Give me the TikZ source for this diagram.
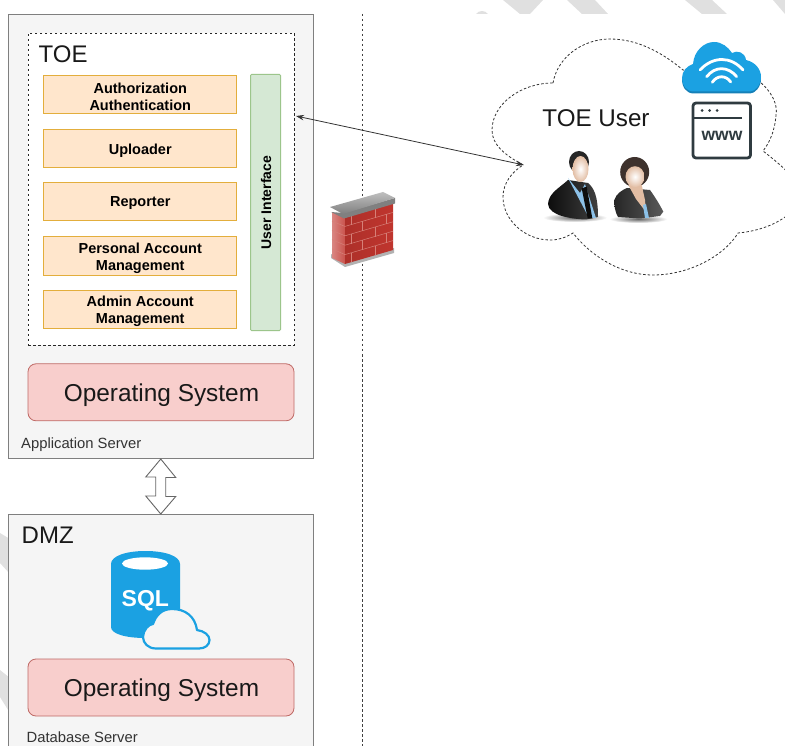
\documentclass[tikz,border=0pt]{standalone}
\usepackage{fontspec}
\setmainfont{Liberation Sans}
\usetikzlibrary{arrows.meta,calc}
\definecolor{wm}{HTML}{E0E0E0}
\definecolor{srvfill}{HTML}{F5F5F5}
\definecolor{srvline}{HTML}{7F7F7F}
\definecolor{orfill}{HTML}{FFE6CC}
\definecolor{orline}{HTML}{E3AE3C}
\definecolor{grfill}{HTML}{D5E8D4}
\definecolor{grline}{HTML}{9CC58B}
\definecolor{osfill}{HTML}{F8CECC}
\definecolor{osline}{HTML}{BF6A66}
\definecolor{azure}{HTML}{1BA1E2}
\definecolor{azdark}{HTML}{1580B8}
\definecolor{iconink}{HTML}{2F3B40}
\definecolor{brick}{HTML}{C0352E}
\definecolor{mortar}{HTML}{D68078}
\definecolor{skin}{HTML}{E2BDA3}
\definecolor{shirt}{HTML}{8CC1E8}
\definecolor{hairw}{HTML}{3E322D}
\tikzset{
  x=1pt,y=-1pt,
  server/.style={draw=srvline,line width=1pt,fill=srvfill,inner sep=0pt},
  modbox/.style={draw=orline,line width=1pt,fill=orfill,minimum width=193pt,minimum height=38.5pt,inner sep=0pt},
  modtext/.style={inner sep=0pt,align=center,yshift=-2pt,font=\fontsize{14.5}{17}\selectfont\bfseries},
  osbox/.style={draw=osline,line width=.8pt,fill=osfill,rounded corners=8pt,minimum width=266pt,minimum height=57pt,inner sep=0pt},
  ostext/.style={inner sep=0pt,yshift=-2.5pt,xshift=.5pt,font=\fontsize{24.4}{28}\selectfont,text=black!90},
  biglabel/.style={inner sep=0pt,font=\fontsize{24}{28}\selectfont,text=black!90},
  smalllabel/.style={inner sep=0pt,font=\fontsize{14.8}{17}\selectfont,text=black!80},
  dataarrow/.style={{Stealth[length=8pt,width=5.5pt]}-{Stealth[length=8pt,width=5.5pt]},black!80,line width=.8pt},
}
\begin{document}
\begin{tikzpicture}
\useasboundingbox (0,0) rectangle (785,746);
\clip (0,0) rectangle (785,746);
% watermark fragments
\fill[wm] (503,0) -- (520,14) -- (530,14) -- (543,0) -- cycle;
\fill[wm] (567,0) -- (595,0) -- (608,14) -- (582,14) -- cycle;
\fill[wm] (685,0) -- (712,0) -- (727,14) -- (702,14) -- cycle;
\fill[wm] (773,0) -- (785,0) -- (785,14) -- cycle;
\fill[wm] (476,14) .. controls (479,10) and (485,10) .. (488,14) -- cycle;
\fill[wm] (0,533) -- (10,539) -- (10,574) -- (0,563) -- cycle;
\fill[wm] (0,670) -- (10,678) -- (10,713) -- (0,697) -- cycle;
% zone divider
\coordinate (divtop) at (362.5,14);
\coordinate (divbot) at (362.5,746);
\draw[black!75,line width=.8pt,dash pattern=on 2.5pt off 2.5pt] (divtop) -- (divbot);
% servers
\node[server,minimum width=304.5pt,minimum height=444pt] (app) at (160.75,236.5) {};
\node[server,minimum width=304.5pt,minimum height=250pt] (dmz) at (160.75,639.5) {};
\node[draw=black!85,line width=.8pt,dash pattern=on 2.5pt off 2.5pt,fill=white,minimum width=266pt,minimum height=312pt,inner sep=0pt] (toe) at (161,189) {};
\node[biglabel,anchor=base west] (toelbl) at (38.5,63) {TOE};
\node[biglabel,anchor=base west] (dmzlbl) at (21.5,543) {DMZ};
\node[modbox,label={[modtext]center:Authorization\\Authentication}] (authz) at (140.25,94.5) {};
\node[modbox,label={[modtext]center:Uploader}] (upl) at (140.25,148.5) {};
\node[modbox,label={[modtext]center:Reporter}] (rep) at (140.25,201.5) {};
\node[modbox,label={[modtext]center:Personal Account\\Management}] (pers) at (140.25,256) {};
\node[modbox,label={[modtext]center:Admin Account\\Management}] (adm) at (140.25,309.5) {};
\node[draw=grline,line width=1pt,fill=grfill,rounded corners=1pt,minimum width=30pt,minimum height=256pt,inner sep=0pt] (ui) at (265.5,202.5) {};
\node[rotate=90,inner sep=0pt,font=\fontsize{14}{16}\selectfont\bfseries] (uilbl) at (266,202.5) {User Interface};
\node[osbox,label={[ostext]center:Operating System}] (os1) at (161,392.3) {};
\node[osbox,label={[ostext]center:Operating System}] (os2) at (161,687.5) {};
\node[smalllabel,anchor=base west] (applbl) at (21,448) {Application Server};
\node[smalllabel,anchor=base west] (dblbl) at (26.5,742) {Database Server};
% double block arrow between the servers
\draw[black!60,line width=.9pt,fill=white,line join=miter]
  (app.south) -- ++(15,18.5) -- ++(-10,0) -- ++(0,19) -- ++(10,0) -- (dmz.north)
  -- ++(-15,-18) -- ++(10,0) -- ++(0,-19) -- ++(-10,0) -- cycle;
% SQL icon
\fill[azure] (111,564) .. controls (111,556) and (126,551) .. (145.5,551) .. controls (165,551) and (180,556) .. (180,564)
  -- (180,630) .. controls (180,634) and (165,638) .. (145.5,638) .. controls (126,638) and (111,634) .. (111,627) -- cycle;
\fill[white] (145,563.5) ellipse [x radius=23,y radius=6.2];
\node[inner sep=0pt,text=white,font=\fontsize{23}{24}\selectfont\bfseries] (sql) at (145.3,600.5) {SQL};
\draw[azure,line width=2.2pt,fill=srvfill,line join=round]
  (156,648.5) .. controls (148,648.5) and (143,643) .. (143,637) .. controls (143,630) and (149,624) .. (153,624)
  .. controls (156,615) and (162,609) .. (172,609) .. controls (185,609) and (195,616) .. (197,630)
  .. controls (204,631) and (209.5,635) .. (209.5,640) .. controls (209.5,645) and (205,648.5) .. (199,648.5) -- cycle;
% user cloud
\draw[black!80,line width=.8pt,dash pattern=on 2.5pt off 2pt,fill=white]
  (553,83) .. controls (558,55) and (585,39) .. (610,39) .. controls (640,39) and (665,55) .. (683,70)
  -- (760,82) .. controls (772,92) and (778,105) .. (776,115) .. controls (775,130) and (770,142) .. (763,151)
  .. controls (772,158) and (785,168) .. (800,185) .. controls (802,200) and (792,214) .. (785,217)
  .. controls (770,228) and (750,232) .. (738,233) .. controls (725,255) and (690,275) .. (653,275)
  .. controls (620,275) and (590,255) .. (573,233) .. controls (565,238) and (558,240) .. (550,240)
  .. controls (525,240) and (503,220) .. (503,197) .. controls (503,183) and (512,172) .. (523,165)
  .. controls (505,155) and (492,145) .. (492,130) .. controls (492,105) and (520,83) .. (553,83) -- cycle;
\node[inner sep=0pt,anchor=base,font=\fontsize{24.2}{28}\selectfont,text=black!90] (userlbl) at (596,127) {TOE User};
% arrow
\coordinate (arrA) at (296,116);
\coordinate (arrB) at (524,165);
\draw[dataarrow] (arrA) -- (arrB);
% firewall
\fill[black!30] (331,258) -- (345,267) -- (394,253) -- (394,248) -- (345,262) -- (331,254) -- cycle;
\shade[left color=brick!60!white,right color=brick!85] (332,212) -- (345,217) -- (345,264) -- (332,258) -- cycle;
\shade[left color=brick!90!black,right color=brick] (345,217) -- (393,203) -- (393,250) -- (345,264) -- cycle;
\foreach \t in {0.2,0.4,0.6,0.8}{
  \draw[mortar,line width=.5pt] ($(345,217)!\t!(345,264)$) -- ($(393,203)!\t!(393,250)$);
  \draw[mortar,line width=.5pt] ($(345,217)!\t!(345,264)$) -- ($(332,212)!\t!(332,258)$);
}
\foreach \r/\a/\b in {0/.0/.2,1/.2/.4,2/.4/.6,3/.6/.8,4/.8/1}{
  \pgfmathsetmacro{\sh}{mod(\r,2)==0 ? 0.12 : 0.36}
  \foreach \k in {0,0.5}{
    \pgfmathsetmacro{\u}{\sh+\k}
    \draw[mortar,line width=.5pt]
      ($($(345,217)!\a!(345,264)$)!\u!($(393,203)!\a!(393,250)$)$) --
      ($($(345,217)!\b!(345,264)$)!\u!($(393,203)!\b!(393,250)$)$);
  }
}
\fill[black!50] (331,212) -- (344,218.5) -- (395,203.5) -- (395,198) -- (343,213) -- cycle;
\shade[top color=black!25,bottom color=black!50] (330,207) -- (383,192) -- (395,198) -- (343,214) -- cycle;
% man
\shade[inner color=black!60,outer color=white] (575,217.5) ellipse [x radius=32,y radius=4.5];
\shade[left color=black!95,right color=black!75]
  (548,204) .. controls (549,193) and (558,189) .. (568,180) -- (588,183)
  .. controls (594,188) and (598,196) .. (598,217) -- (586,219.5)
  .. controls (572,219) and (549,216) .. (548,204) -- cycle;
\fill[shirt] (568,178) -- (580,193) -- (585,184) -- (596,218) -- (589,218) -- cycle;
\fill[black!95] (581.7,188.3) -- (586.7,186.7) -- (592.3,218.3) -- (587.7,218.3) -- cycle;
\fill[black!85] (579,162) ellipse [x radius=10,y radius=11];
\shade[inner color=white,outer color=skin] (580.5,169) ellipse [x radius=8,y radius=13];
% woman
\shade[inner color=black!60,outer color=white] (638.3,219) ellipse [x radius=29,y radius=4];
\fill[hairw] (634.7,172) ellipse [x radius=14.5,y radius=15];
\shade[left color=black!85,right color=black!65]
  (614.3,200) .. controls (616,194) and (622,190) .. (627,188) -- (650,190)
  .. controls (655,197) and (660,205) .. (663.3,211.7) -- (660,216) -- (640,218.5) -- (618,217)
  .. controls (615,212) and (614,205) .. (614.3,200) -- cycle;
\fill[skin] (628.3,185) -- (641.7,185) -- (645,200) -- (646,212) -- (636,199) -- cycle;
\fill[shirt] (643,205) -- (646,204) -- (649,218) -- (645,218) -- cycle;
\shade[inner color=white,outer color=skin] (635,176.7) ellipse [x radius=9.5,y radius=10.5];
% wifi cloud icon
\fill[azdark] (694,93.5) .. controls (686,93.5) and (682,87) .. (682,79) -- (761,79) .. controls (761,87) and (755,93.5) .. (750,93.5) -- cycle;
\fill[azure] (694,91.5) .. controls (686,91.5) and (682,85) .. (682,78) .. controls (682,71) and (687,66) .. (693,64)
  .. controls (694,51) and (704,42) .. (714,42) .. controls (722,42) and (728,47) .. (732,53)
  .. controls (737,50) and (745,52) .. (746,60) .. controls (755,62) and (761,69) .. (761,77)
  .. controls (761,85) and (755,91.5) .. (750,91.5) -- cycle;
\draw[white,line width=2.8pt,line cap=round] (700,70) .. controls (713,56) and (731,56) .. (743,70);
\draw[white,line width=2.8pt,line cap=round] (706.7,76.7) .. controls (715,66) and (728,66) .. (736.7,76.7);
\draw[white,line width=2.8pt,line cap=round] (712.3,82.3) .. controls (717,75) and (726,75) .. (730.7,82);
% www icon
\draw[iconink,line width=2.8pt,rounded corners=3pt] (693,103) rectangle (750.5,158);
\draw[iconink,line width=2.2pt] (694,118) -- (742,118);
\fill[iconink] (702,110.5) circle [radius=1.5] (709.5,110.5) circle [radius=1.5] (717,110.5) circle [radius=1.5];
\node[inner sep=0pt,text=iconink,font=\fontsize{17.5}{20}\selectfont\bfseries] (www) at (722,135.5) {www};
\end{tikzpicture}
\end{document}
